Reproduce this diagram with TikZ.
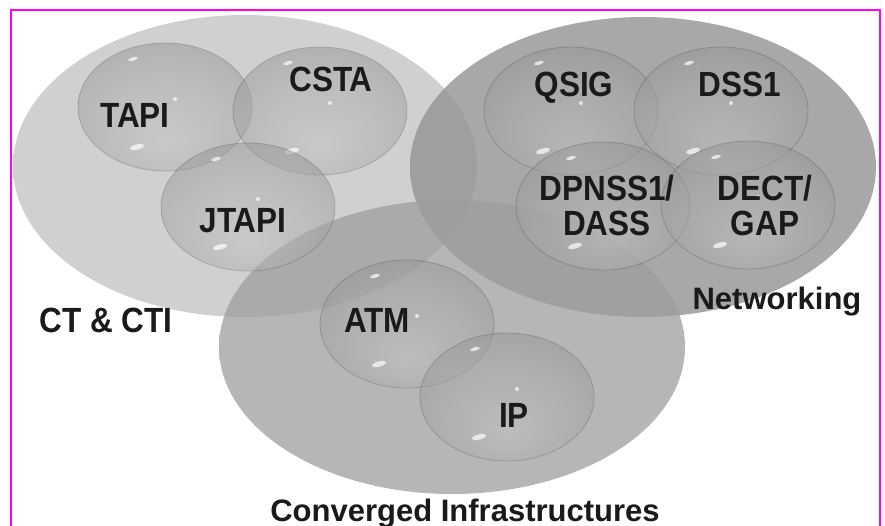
\documentclass[tikz,border=0pt]{standalone}
\usepackage{fontspec}
\setmainfont{Liberation Sans}
\newfontfamily\lblfont[FakeStretch=0.9]{Liberation Sans}

% palette
\definecolor{framepink}{HTML}{FF00FF}
\definecolor{ink}{HTML}{1A1A1A}
\definecolor{ctin}{HTML}{D0D0D0}
\definecolor{ctrim}{HTML}{D8D8D8}
\definecolor{ctglow}{HTML}{EEEEEE}
\definecolor{ctedge}{HTML}{C6C6C6}
\definecolor{netin}{HTML}{939393}
\definecolor{netmid}{HTML}{989898}
\definecolor{netedge}{HTML}{CDCDCD}
\definecolor{cvin}{HTML}{9E9E9E}
\definecolor{cvmid}{HTML}{A4A4A4}
\definecolor{cvedge}{HTML}{C4C4C4}
\definecolor{bubin}{HTML}{C4C4C4}
\definecolor{bubmid}{HTML}{A6A6A6}
\definecolor{bubout}{HTML}{7A7A7A}
\definecolor{bubrim}{HTML}{9A9A9A}

% radial shadings for the three large discs and the small bubbles
\pgfdeclareradialshading{ctdisc}{\pgfpointorigin}{%
  color(0bp)=(ctin); color(38bp)=(ctin); color(45bp)=(ctrim);
  color(48.5bp)=(ctglow); color(50bp)=(ctedge)}
\pgfdeclareradialshading{netdisc}{\pgfpointorigin}{%
  color(0bp)=(netin); color(36bp)=(netin); color(43bp)=(netmid);
  color(50bp)=(netedge)}
\pgfdeclareradialshading{cvdisc}{\pgfpointorigin}{%
  color(0bp)=(cvin); color(36bp)=(cvin); color(43bp)=(cvmid);
  color(50bp)=(cvedge)}
% light spot sits low inside each bubble, rim darkens towards the edge
\pgfdeclareradialshading{bubshade}{\pgfpoint{0bp}{-14bp}}{%
  color(0bp)=(bubin); color(22bp)=(bubmid); color(44bp)=(bubout);
  color(50bp)=(bubrim)}

\tikzset{
  ctstyle/.style={shading=ctdisc},
  netstyle/.style={shading=netdisc, opacity=0.8},
  cvstyle/.style={shading=cvdisc, opacity=0.75},
  bubstyle/.style={shading=bubshade, opacity=0.5},
  bubline/.style={draw=black, draw opacity=0.16, line width=0.8pt},
  gleam/.style={fill=white, fill opacity=0.7},
  lbl/.style={text=ink, inner sep=0pt, align=center,
    font=\lblfont\bfseries\fontsize{35}{35}\selectfont},
  grouplbl/.style={text=ink, inner sep=0pt,
    font=\bfseries\fontsize{31}{31}\selectfont},
}

% one glassy bubble centred at (#1,#2)
\newcommand\glassbubble[2]{%
  \shade[bubstyle] (#1,#2) ellipse [x radius=87, y radius=64];
  \path[bubline] (#1,#2) ellipse [x radius=87, y radius=64];
  \fill[gleam, shift={({#1-32},{#2-48})}, rotate=15] (0,0) ellipse [x radius=5, y radius=1.8];
  \fill[gleam, shift={({#1+10},{#2-8})}] (0,0) circle [radius=2];
  \fill[gleam, shift={({#1-28},{#2+40})}, rotate=15] (0,0) ellipse [x radius=7, y radius=2.6];
}

\begin{document}
\begin{tikzpicture}[x=1pt, y=-1pt]
\useasboundingbox (0,0) rectangle (885,526);
\fill[white] (0,0) rectangle (885,526);

% frame lines
\draw[framepink, line width=1.5pt] (11,526) -- (11,10) -- (880,10) -- (880,526);

% three large discs
\shade[ctstyle] (245,166) ellipse [x radius=232, y radius=151];
\shade[netstyle] (643,167) ellipse [x radius=233, y radius=150];
\shade[cvstyle] (452,347) ellipse [x radius=233, y radius=147];

% bubbles of the CT & CTI group
\glassbubble{165}{107}
\glassbubble{320}{111}
\glassbubble{248}{207}
% bubbles of the networking group
\glassbubble{571}{111}
\glassbubble{721}{111}
\glassbubble{603}{206}
\glassbubble{748}{205}
% bubbles of the converged infrastructures group
\glassbubble{407}{324}
\glassbubble{507}{397}

% bubble labels
\node[lbl, anchor=base] (tapi)  at (135,128) {TAPI};
\node[lbl, anchor=base] (csta)  at (331,92)  {CSTA};
\node[lbl, anchor=base] (jtapi) at (243,233) {JTAPI};
\node[lbl, anchor=base] (qsig)  at (574,97)  {QSIG};
\node[lbl, anchor=base] (dss)   at (740,97)  {DSS1};
\node[lbl] (dpnss) at (607,205) {DPNSS1/\\DASS};
\node[lbl] (dect)  at (765,205) {DECT/\\GAP};
\node[lbl, anchor=base] (atm)   at (377,332) {ATM};
\node[lbl, anchor=base] (ip)    at (514,427) {IP};

% group labels
\node[lbl, anchor=base] (ctcti) at (106,332) {CT \& CTI};
\node[grouplbl, anchor=base] (netw) at (777,309) {Networking};
\node[grouplbl, anchor=base] (conv) at (465,521) {Converged Infrastructures};
\end{tikzpicture}
\end{document}
